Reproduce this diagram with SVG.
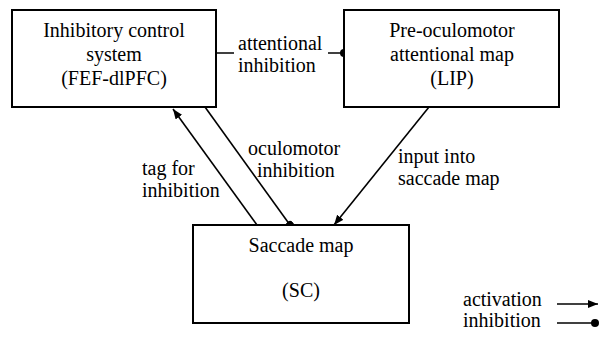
<svg xmlns="http://www.w3.org/2000/svg" width="600" height="354" viewBox="0 0 600 354">
  <style>
    .lbl { font-family: "Liberation Serif", "Times New Roman", Times, "Nimbus Roman", "Nimbus Roman No9 L", FreeSerif, "DejaVu Serif", "Noto Serif", Georgia, serif; font-size: 20px; fill: #000; }
    .box { fill: #fff; stroke: #000; stroke-width: 2; }
    .mid { text-anchor: middle; }
    .edge { stroke: #000; stroke-width: 1.6; fill: none; }
  </style>
  <defs>
    <marker id="arrow" viewBox="0 0 10 8" refX="10" refY="4" markerWidth="10" markerHeight="8" markerUnits="userSpaceOnUse" orient="auto">
      <path d="M0,0 L10,4 L0,8 Z" fill="#000"/>
    </marker>
    <marker id="dot" viewBox="0 0 8 8" refX="4" refY="4" markerWidth="8" markerHeight="8" markerUnits="userSpaceOnUse" orient="auto">
      <circle cx="4" cy="4" r="4" fill="#000"/>
    </marker>
  </defs>
  <rect width="600" height="354" fill="#fff"/>

  <g id="connectors">
    <!-- attentional inhibition: control system to LIP -->
    <line class="edge" x1="216" y1="53" x2="344" y2="53" marker-end="url(#dot)"/>
    <rect x="234" y="34" width="94" height="42" fill="#fff"/>
    <text class="lbl" x="238" y="50">attentional</text>
    <text class="lbl" x="238" y="72">inhibition</text>

    <!-- tag for inhibition: SC to control system -->
    <line class="edge" x1="257" y1="225" x2="173" y2="109" marker-end="url(#arrow)"/>
    <text class="lbl" x="142" y="175">tag for</text>
    <text class="lbl" x="142" y="197">inhibition</text>

    <!-- oculomotor inhibition: control system to SC -->
    <line class="edge" x1="205" y1="107" x2="290" y2="225" marker-end="url(#dot)"/>
    <text class="lbl" x="248" y="155">oculomotor</text>
    <text class="lbl" x="257" y="177">inhibition</text>

    <!-- input into saccade map: LIP to SC -->
    <line class="edge" x1="429" y1="107" x2="334" y2="225" marker-end="url(#arrow)"/>
    <text class="lbl" x="398" y="163">input into</text>
    <text class="lbl" x="398" y="185">saccade map</text>
  </g>

  <g id="control-system">
    <rect class="box" x="12" y="10" width="204" height="97"/>
    <text class="lbl mid" x="114" y="37">Inhibitory control</text>
    <text class="lbl mid" x="114" y="61">system</text>
    <text class="lbl mid" x="114" y="85">(FEF-dlPFC)</text>
  </g>

  <g id="attentional-map">
    <rect class="box" x="344" y="10" width="215" height="97"/>
    <text class="lbl mid" x="452" y="37">Pre-oculomotor</text>
    <text class="lbl mid" x="452" y="61">attentional map</text>
    <text class="lbl mid" x="452" y="85">(LIP)</text>
  </g>

  <g id="saccade-map">
    <rect class="box" x="193" y="225" width="216" height="98"/>
    <text class="lbl mid" x="301" y="252">Saccade map</text>
    <text class="lbl mid" x="301" y="297">(SC)</text>
  </g>

  <g id="legend">
    <text class="lbl" x="463" y="306">activation</text>
    <line class="edge" x1="557" y1="304" x2="598" y2="304" marker-end="url(#arrow)"/>
    <text class="lbl" x="463" y="327">inhibition</text>
    <line class="edge" x1="557" y1="323" x2="595" y2="323" marker-end="url(#dot)"/>
  </g>
</svg>
